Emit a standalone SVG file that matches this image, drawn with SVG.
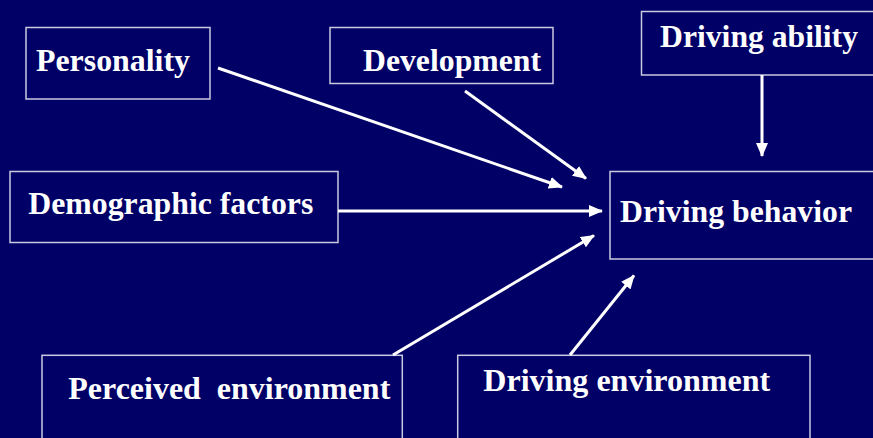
<svg xmlns="http://www.w3.org/2000/svg" width="873" height="438" viewBox="0 0 873 438">
<defs>
<style>
.box{fill:none;stroke:#c9c9e0;stroke-width:1.5}
.lbl{font-family:"Liberation Serif","Times New Roman",serif;font-weight:bold;font-size:32px;fill:#ffffff}
.arr{stroke:#ffffff;stroke-width:3;fill:none;marker-end:url(#ah)}
</style>
<marker id="ah" markerUnits="userSpaceOnUse" markerWidth="14" markerHeight="12" viewBox="0 0 14 12" refX="13" refY="6" orient="auto">
<path d="M0,0 L14,6 L0,12 z" fill="#ffffff"/>
</marker>
</defs>
<rect width="873" height="438" fill="#000066"/>
<g id="personality">
<rect class="box" x="26" y="27.5" width="184" height="71.5"/>
<text class="lbl" x="36" y="71" textLength="154" lengthAdjust="spacingAndGlyphs">Personality</text>
</g>
<g id="development">
<rect class="box" x="330" y="27.5" width="223" height="56"/>
<text class="lbl" x="363" y="70.7" textLength="178" lengthAdjust="spacingAndGlyphs">Development</text>
</g>
<g id="driving-ability">
<rect class="box" x="641.5" y="11.5" width="240" height="63.5"/>
<text class="lbl" x="660" y="46.7" textLength="198" lengthAdjust="spacingAndGlyphs">Driving ability</text>
</g>
<g id="demographic">
<rect class="box" x="10" y="171.5" width="328" height="71"/>
<text class="lbl" x="28.3" y="214" textLength="285" lengthAdjust="spacingAndGlyphs">Demographic factors</text>
</g>
<g id="driving-behavior">
<rect class="box" x="610" y="171.5" width="270" height="87.5"/>
<text class="lbl" x="620" y="221.7" textLength="232" lengthAdjust="spacingAndGlyphs">Driving behavior</text>
</g>
<g id="perceived-environment">
<rect class="box" x="42" y="355.3" width="360.3" height="100"/>
<text class="lbl" x="68.3" y="399.3" textLength="322" lengthAdjust="spacingAndGlyphs" xml:space="preserve">Perceived  environment</text>
</g>
<g id="driving-environment">
<rect class="box" x="457.7" y="355.3" width="352.3" height="100"/>
<text class="lbl" x="483.3" y="391" textLength="287" lengthAdjust="spacingAndGlyphs">Driving environment</text>
</g>
<g id="connectors">
<line class="arr" x1="218" y1="68" x2="562" y2="187"/>
<line class="arr" x1="465" y1="91" x2="586" y2="178.5"/>
<line class="arr" x1="762" y1="75" x2="762" y2="156"/>
<line class="arr" x1="338" y1="211" x2="602" y2="211"/>
<line class="arr" x1="393" y1="355" x2="594" y2="235.5"/>
<line class="arr" x1="570" y1="355" x2="634" y2="275.5"/>
</g>
</svg>
